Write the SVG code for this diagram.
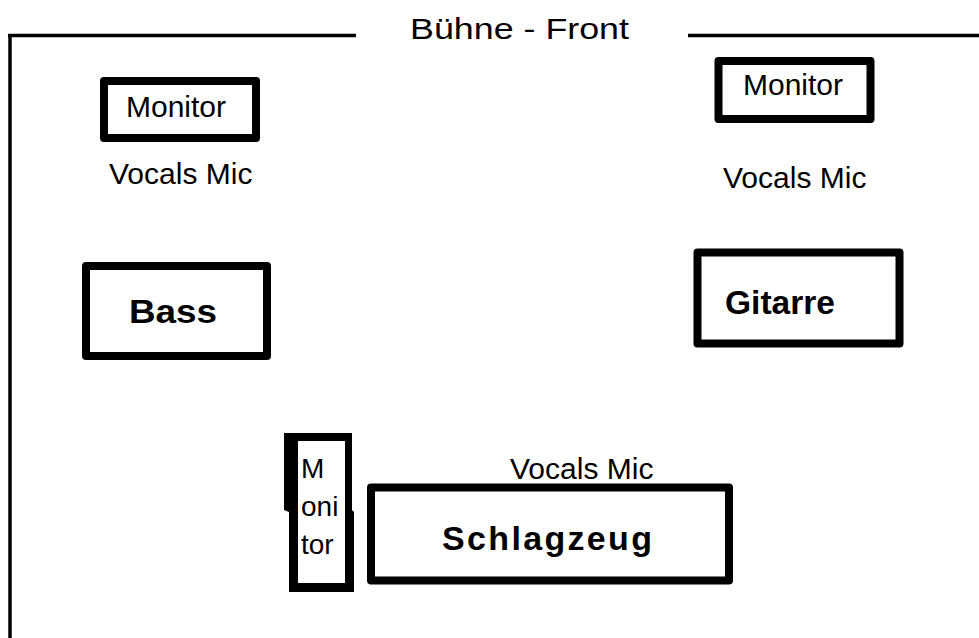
<svg xmlns="http://www.w3.org/2000/svg" width="979" height="638" viewBox="0 0 979 638">
<style>
.box{fill:#fff;stroke:#000;stroke-width:8;stroke-linejoin:round}
.t{font-family:"Liberation Sans",Arial,sans-serif;font-size:30px;fill:#000}
.b{font-family:"Liberation Sans",Arial,sans-serif;font-size:34px;font-weight:bold;fill:#000}
.s{font-family:"Liberation Sans",Arial,sans-serif;font-size:28px;fill:#000}
</style>
<rect width="979" height="638" fill="#fff"/>
<g id="stage-border">
<line x1="8" y1="35.5" x2="356" y2="35.5" stroke="#000" stroke-width="3.5"/>
<line x1="688" y1="35.5" x2="979" y2="35.5" stroke="#000" stroke-width="3.5"/>
<line x1="10" y1="34" x2="10" y2="638" stroke="#000" stroke-width="3.5"/>
<text class="t" x="410" y="39" font-size="35" textLength="219" lengthAdjust="spacingAndGlyphs">Bühne - Front</text>
</g>
<g id="monitor-left">
<rect class="box" x="104" y="81" width="152" height="57"/>
<text class="t" x="126" y="117">Monitor</text>
</g>
<g id="vocals-left"><text class="t" x="109" y="184">Vocals Mic</text></g>
<g id="monitor-right">
<rect class="box" x="718.5" y="61" width="152" height="58"/>
<text class="t" x="743" y="95">Monitor</text>
</g>
<g id="vocals-right"><text class="t" x="723" y="188">Vocals Mic</text></g>
<g id="bass">
<rect class="box" x="86" y="266" width="181" height="90"/>
<text class="b" x="129" y="323" textLength="88" lengthAdjust="spacingAndGlyphs">Bass</text>
</g>
<g id="gitarre">
<rect class="box" x="697.5" y="252.5" width="202" height="91"/>
<text class="b" x="725" y="314" textLength="110" lengthAdjust="spacingAndGlyphs">Gitarre</text>
</g>
<g id="vocals-drums"><text class="t" x="510" y="479">Vocals Mic</text></g>
<g id="schlagzeug">
<rect class="box" x="371" y="487.5" width="358" height="93"/>
<text class="b" x="442" y="550" textLength="210">Schlagzeug</text>
</g>
<g id="monitor-drums">
<text class="s" x="301" y="478">M</text>
<text class="s" x="301" y="516">oni</text>
<text class="s" x="301" y="554">tor</text>
<path d="M284,433 H352 V510 L354,512 V592 H289 V512 L284,510 Z M298,441 V583 H345 V441 Z" fill="#000" fill-rule="evenodd"/>
</g>
<g id="connectors"/>
</svg>
